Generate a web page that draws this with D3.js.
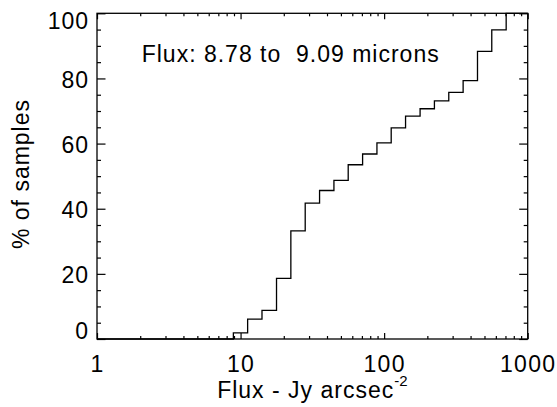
<!DOCTYPE html>
<html lang="en">
<head>
<meta charset="UTF-8">
<title>Flux cumulative distribution</title>
<script src="https://d3js.org/d3.v7.min.js"></script>
<style>
  body { margin: 0; background: #fff; }
  text { font-family: "Liberation Sans", Arial, Helvetica, sans-serif; }
</style>
</head>
<body>
<script>
// start of each 0.1 dex flux bin (Jy arcsec^-2) and cumulative % of samples
var fluxEdges = [8.91, 11.2, 14.1, 17.8, 22.4, 28.2, 35.5, 44.7, 56.2, 70.8,
                 89.1, 112, 141, 178, 224, 282, 355, 447, 562, 708];
var cumPercent = [1.9, 6.1, 8.8, 18.6, 33.2, 41.7, 45.6, 48.7, 53.5, 56.8,
                  60.2, 64.8, 68.4, 70.7, 73.1, 75.7, 79.3, 88.3, 94.9, 100];
var xTicks = [1, 10, 100, 1000];
var yTicks = [0, 20, 40, 60, 80, 100];
var titleText = "Flux: 8.78 to  9.09 microns";

var width = 557, height = 407;
var plotLeft = 97, plotRight = 527.7, plotTop = 13.3, plotBottom = 339;

var svg = d3.select("body").append("svg")
    .attr("width", width)
    .attr("height", height);

var x = d3.scaleLog().domain([1, 1000]).range([plotLeft, plotRight]);
var y = d3.scaleLinear().domain([0, 100]).range([plotBottom, plotTop]);

var xMinor = [];
[1, 10, 100].forEach(function(d) {
  for (var k = 2; k <= 9; k++) xMinor.push(d * k);
});
var yMinor = d3.range(0, 101, 5).filter(function(d) { return d % 20 != 0; });

var fontSize = 23;

function styleAxis(g) {
  g.selectAll(".domain").remove();
  g.selectAll("line").attr("stroke", "#000").attr("stroke-width", 1.2);
}

// bottom axis
var gx = svg.append("g").attr("transform", "translate(0," + plotBottom + ")");
gx.append("g").call(d3.axisBottom(x).tickValues(xMinor).tickSize(-3).tickFormat(""));
var gxMaj = gx.append("g");
gxMaj.call(d3.axisBottom(x).tickValues(xTicks).tickSize(-6).tickFormat(d3.format("d")));
styleAxis(gx);
gxMaj.selectAll("text")
    .attr("y", 32.7).attr("dy", null)
    .style("font-size", fontSize + "px")
    .style("letter-spacing", "1.3px")
    .attr("fill", "#000");

// top axis
var gxt = svg.append("g").attr("transform", "translate(0," + plotTop + ")");
gxt.append("g").call(d3.axisTop(x).tickValues(xMinor).tickSize(-3).tickFormat(""));
gxt.append("g").call(d3.axisTop(x).tickValues(xTicks).tickSize(-6).tickFormat(""));
styleAxis(gxt);

// left axis
var gy = svg.append("g").attr("transform", "translate(" + plotLeft + ",0)");
gy.append("g").call(d3.axisLeft(y).tickValues(yMinor).tickSize(-4).tickFormat(""));
var gyMaj = gy.append("g");
gyMaj.call(d3.axisLeft(y).tickValues(yTicks).tickSize(-8.5).tickFormat(d3.format("d")));
styleAxis(gy);
gyMaj.selectAll("text")
    .attr("x", -8).attr("dy", null)
    .attr("y", function(d) { return d == 100 ? 15 : (d == 0 ? -1 : 9); })
    .style("font-size", fontSize + "px")
    .style("letter-spacing", "1px")
    .attr("fill", "#000");

// right axis
var gyr = svg.append("g").attr("transform", "translate(" + plotRight + ",0)");
gyr.append("g").call(d3.axisRight(y).tickValues(yMinor).tickSize(-4).tickFormat(""));
gyr.append("g").call(d3.axisRight(y).tickValues(yTicks).tickSize(-8.5).tickFormat(""));
styleAxis(gyr);

// box
svg.append("rect")
    .attr("x", plotLeft).attr("y", plotTop)
    .attr("width", plotRight - plotLeft).attr("height", plotBottom - plotTop)
    .attr("fill", "none").attr("stroke", "#000").attr("stroke-width", 1.3);

// cumulative step line
var pts = [[1, 0]];
fluxEdges.forEach(function(f, i) { pts.push([f, cumPercent[i]]); });
pts.push([1000, cumPercent[cumPercent.length - 1]]);

var line = d3.line()
    .x(function(d) { return x(d[0]); })
    .y(function(d) { return y(d[1]); })
    .curve(d3.curveStepAfter);

svg.append("path")
    .datum(pts)
    .attr("d", line)
    .attr("fill", "none")
    .attr("stroke", "#000")
    .attr("stroke-width", 1.3);

// annotation
svg.append("text")
    .attr("x", 141.7).attr("y", 61.7)
    .style("font-size", fontSize + "px")
    .style("letter-spacing", "1px")
    .style("white-space", "pre")
    .text(titleText);

// axis titles
var xt = svg.append("text")
    .attr("x", (plotLeft + plotRight) / 2).attr("y", 398.3)
    .attr("text-anchor", "middle")
    .style("font-size", fontSize + "px")
    .style("letter-spacing", "1px");
xt.append("tspan").text("Flux - Jy arcsec");
xt.append("tspan").attr("dy", -12).style("font-size", "15px").style("letter-spacing", "0px").text("-2");

svg.append("text")
    .attr("transform", "translate(28.5,174) rotate(-90)")
    .attr("text-anchor", "middle")
    .style("font-size", fontSize + "px")
    .style("letter-spacing", "1px")
    .text("% of samples");
</script>
</body>
</html>
